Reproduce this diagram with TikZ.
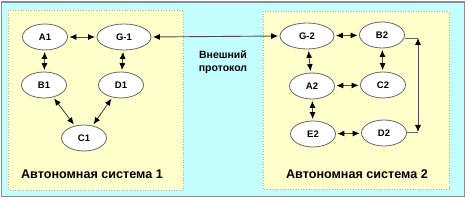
\documentclass[tikz,border=0pt]{standalone}
\usepackage{fontspec}
\setmainfont{Liberation Sans}
\usetikzlibrary{shapes.geometric,arrows.meta}
\definecolor{bgcyan}{HTML}{C4FFFF}
\definecolor{boxyellow}{HTML}{FFFFCC}
\definecolor{framegray}{HTML}{8C8C8C}
\begin{document}
\begin{tikzpicture}[x=1pt,y=-1pt,
  rnode/.style={ellipse,draw=black!60,fill=white,line width=0.8pt,minimum width=45pt,minimum height=26pt,inner sep=0pt,font=\bfseries\fontsize{9.5}{11}\selectfont},
  gnode/.style={rnode,minimum width=54pt},
  asbox/.style={fill=boxyellow,draw=black!30,dotted,line width=0.6pt},
  biarrow/.style={draw=black!70,line width=0.9pt,{Latex[length=7pt,width=6pt,color=black]}-{Latex[length=7pt,width=6pt,color=black]},shorten <=1.5pt,shorten >=1.5pt},
  plainline/.style={draw=black!60,line width=0.9pt},
  lbl/.style={font=\bfseries\fontsize{12.6}{14}\selectfont},
  plbl/.style={font=\bfseries\fontsize{10.5}{13.5}\selectfont,align=center}]
\useasboundingbox (0,0) rectangle (468,200);
\fill[white] (0,0) rectangle (468,200);
\draw[fill=bgcyan,draw=framegray,line width=1.2pt] (1.5,2) rectangle (464.5,196.5);
% autonomous system boxes
\path[asbox] (8,10) rectangle (183,190);
\path[asbox] (263,11) rectangle (449,189);
% AS1 nodes
\node[rnode] (A1) at (45,37) {A1};
\node[gnode] (G1) at (124,37) {G-1};
\node[rnode] (B1) at (44,85) {B1};
\node[rnode] (D1) at (121,85) {D1};
\node[rnode] (C1) at (84,138) {C1};
\node[lbl] (L1) at (92,174) {Автономная система 1};
% AS2 nodes
\node[gnode] (G2) at (307,36) {G-2};
\node[rnode] (B2) at (382,35) {B2};
\node[rnode] (A2) at (312,86) {A2};
\node[rnode] (C2) at (383,85) {C2};
\node[rnode] (E2) at (313,134) {E2};
\node[rnode] (D2) at (384,133) {D2};
\node[lbl] (L2) at (357,174) {Автономная система 2};
% external protocol
\node[plbl] (EP) at (223,62) {Внешний\\протокол};
\draw[biarrow] (G1.east) -- (G2.west);
% AS1 connectors
\draw[biarrow] (A1) -- (G1);
\draw[biarrow] (A1) -- (B1);
\draw[biarrow] (G1) -- (D1);
\draw[biarrow] (B1) -- (C1);
\draw[biarrow] (D1) -- (C1);
% AS2 connectors
\draw[biarrow] (G2) -- (B2);
\draw[biarrow] (G2) -- (A2);
\draw[biarrow] (B2) -- (C2);
\draw[biarrow] (A2) -- (C2);
\draw[biarrow] (A2) -- (E2);
\draw[biarrow] (E2) -- (D2);
\coordinate (T) at (418,38);
\coordinate (U) at (418,132);
\draw[plainline] (B2.east |- T) -- (T);
\draw[plainline] (D2.east |- U) -- (U);
\draw[biarrow,shorten <=0pt,shorten >=0pt] (T) -- (U);
\end{tikzpicture}
\end{document}
